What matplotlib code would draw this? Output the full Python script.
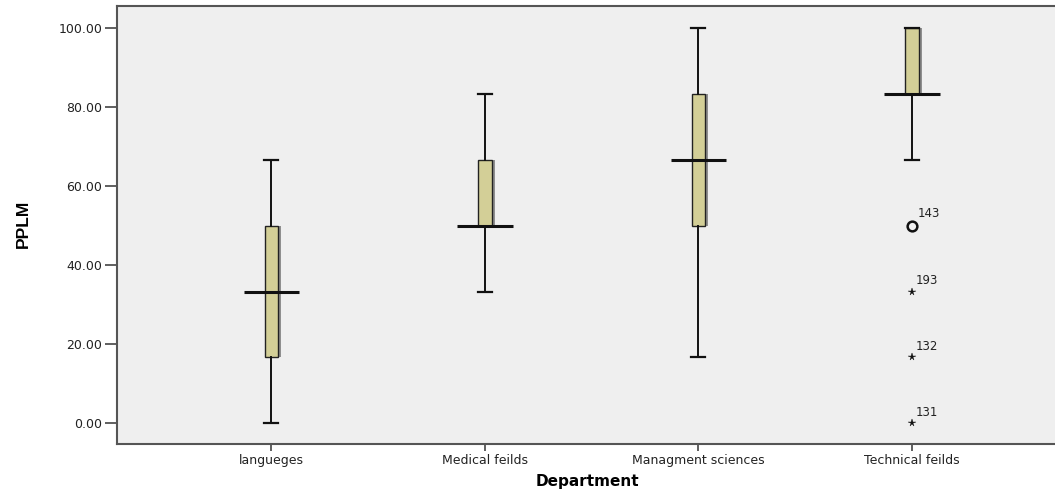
import numpy as np
import matplotlib
matplotlib.use("Agg")
import matplotlib.pyplot as plt
import matplotlib.patheffects as pe

departments = ["langueges", "Medical feilds", "Managment sciences", "Technical feilds"]
q1 = [16.67, 50.00, 50.00, 83.33]
medians = [33.33, 50.00, 66.67, 83.33]
q3 = [50.00, 66.67, 83.33, 100.00]
whisker_lo = [0.00, 33.33, 16.67, 66.67]
whisker_hi = [66.67, 83.33, 100.00, 100.00]

# outliers on Technical feilds: (value, case id, extreme?)
outlier_vals = [50.00, 33.33, 16.67, 0.00]
outlier_ids = ["143", "193", "132", "131"]
outlier_extreme = [False, True, True, True]
outlier_group = 4

yticks = [0, 20, 40, 60, 80, 100]

plt.rcParams["font.family"] = ["DejaVu Sans"]

fig = plt.figure(figsize=(10.55, 4.93), dpi=100)
ax = fig.add_axes([117 / 1055, 1 - 444 / 493, 1 - 117 / 1055 + 0.002, (444 - 6) / 493])
ax.set_facecolor("#efefef")

pos = np.arange(1, len(departments) + 1)
stats = []
for i in range(len(departments)):
    stats.append(dict(med=medians[i], q1=q1[i], q3=q3[i],
                      whislo=whisker_lo[i], whishi=whisker_hi[i], fliers=[]))

art = ax.bxp(stats, positions=pos, widths=0.062, capwidths=0.066,
             patch_artist=True, showfliers=False,
             boxprops=dict(facecolor="#d3cf97", edgecolor="#222222", linewidth=1.0),
             whiskerprops=dict(color="#111111", linewidth=1.4),
             capprops=dict(color="#111111", linewidth=1.6),
             medianprops=dict(linewidth=0))
for b in art["boxes"]:
    b.set_path_effects([pe.SimplePatchShadow(offset=(2.2, 0), shadow_rgbFace="#777777", alpha=0.8),
                        pe.Normal()])

# wide median bars
ax.hlines(medians, pos - 0.13, pos + 0.13, colors="#111111", linewidth=2.2, zorder=4)

# outliers
for v, lab, ext in zip(outlier_vals, outlier_ids, outlier_extreme):
    if ext:
        ax.plot(outlier_group, v, marker="*", ms=5.5, color="#111111", mew=0.3, zorder=5)
        off = (3, 8)
    else:
        ax.plot(outlier_group, v, marker="o", ms=7, mfc="none", mec="#111111", mew=1.8, zorder=5)
        off = (4, 9)
    ax.annotate(lab, (outlier_group, v), xytext=off, textcoords="offset points",
                ha="left", va="center", fontsize=8.5, color="#222222")

ax.set_xlim(0.277, 4.68)
ax.set_ylim(-5.24, 105.65)
ax.set_xticks(pos)
ax.set_xticklabels(departments, fontsize=9)
ax.set_yticks(yticks)
ax.set_yticklabels(["%.2f" % t for t in yticks], fontsize=9)
ax.tick_params(axis="y", length=9, width=1.2, pad=1.5, colors="#444444", labelcolor="#222222")
ax.tick_params(axis="x", length=5, width=1.2, pad=2, colors="#444444", labelcolor="#222222")

for s in ["left", "bottom", "top"]:
    ax.spines[s].set_color("#555555")
    ax.spines[s].set_linewidth(1.5)
ax.spines["right"].set_visible(False)

ax.set_xlabel("Department", fontsize=11, fontweight="bold", labelpad=5)
fig.text(23 / 1055, 1 - 224 / 493, "PPLM", rotation=90, ha="center", va="center",
         fontsize=12.5, fontweight="bold", family=["Liberation Sans", "DejaVu Sans"])

fig.savefig("out.png", dpi=100, facecolor="white")
